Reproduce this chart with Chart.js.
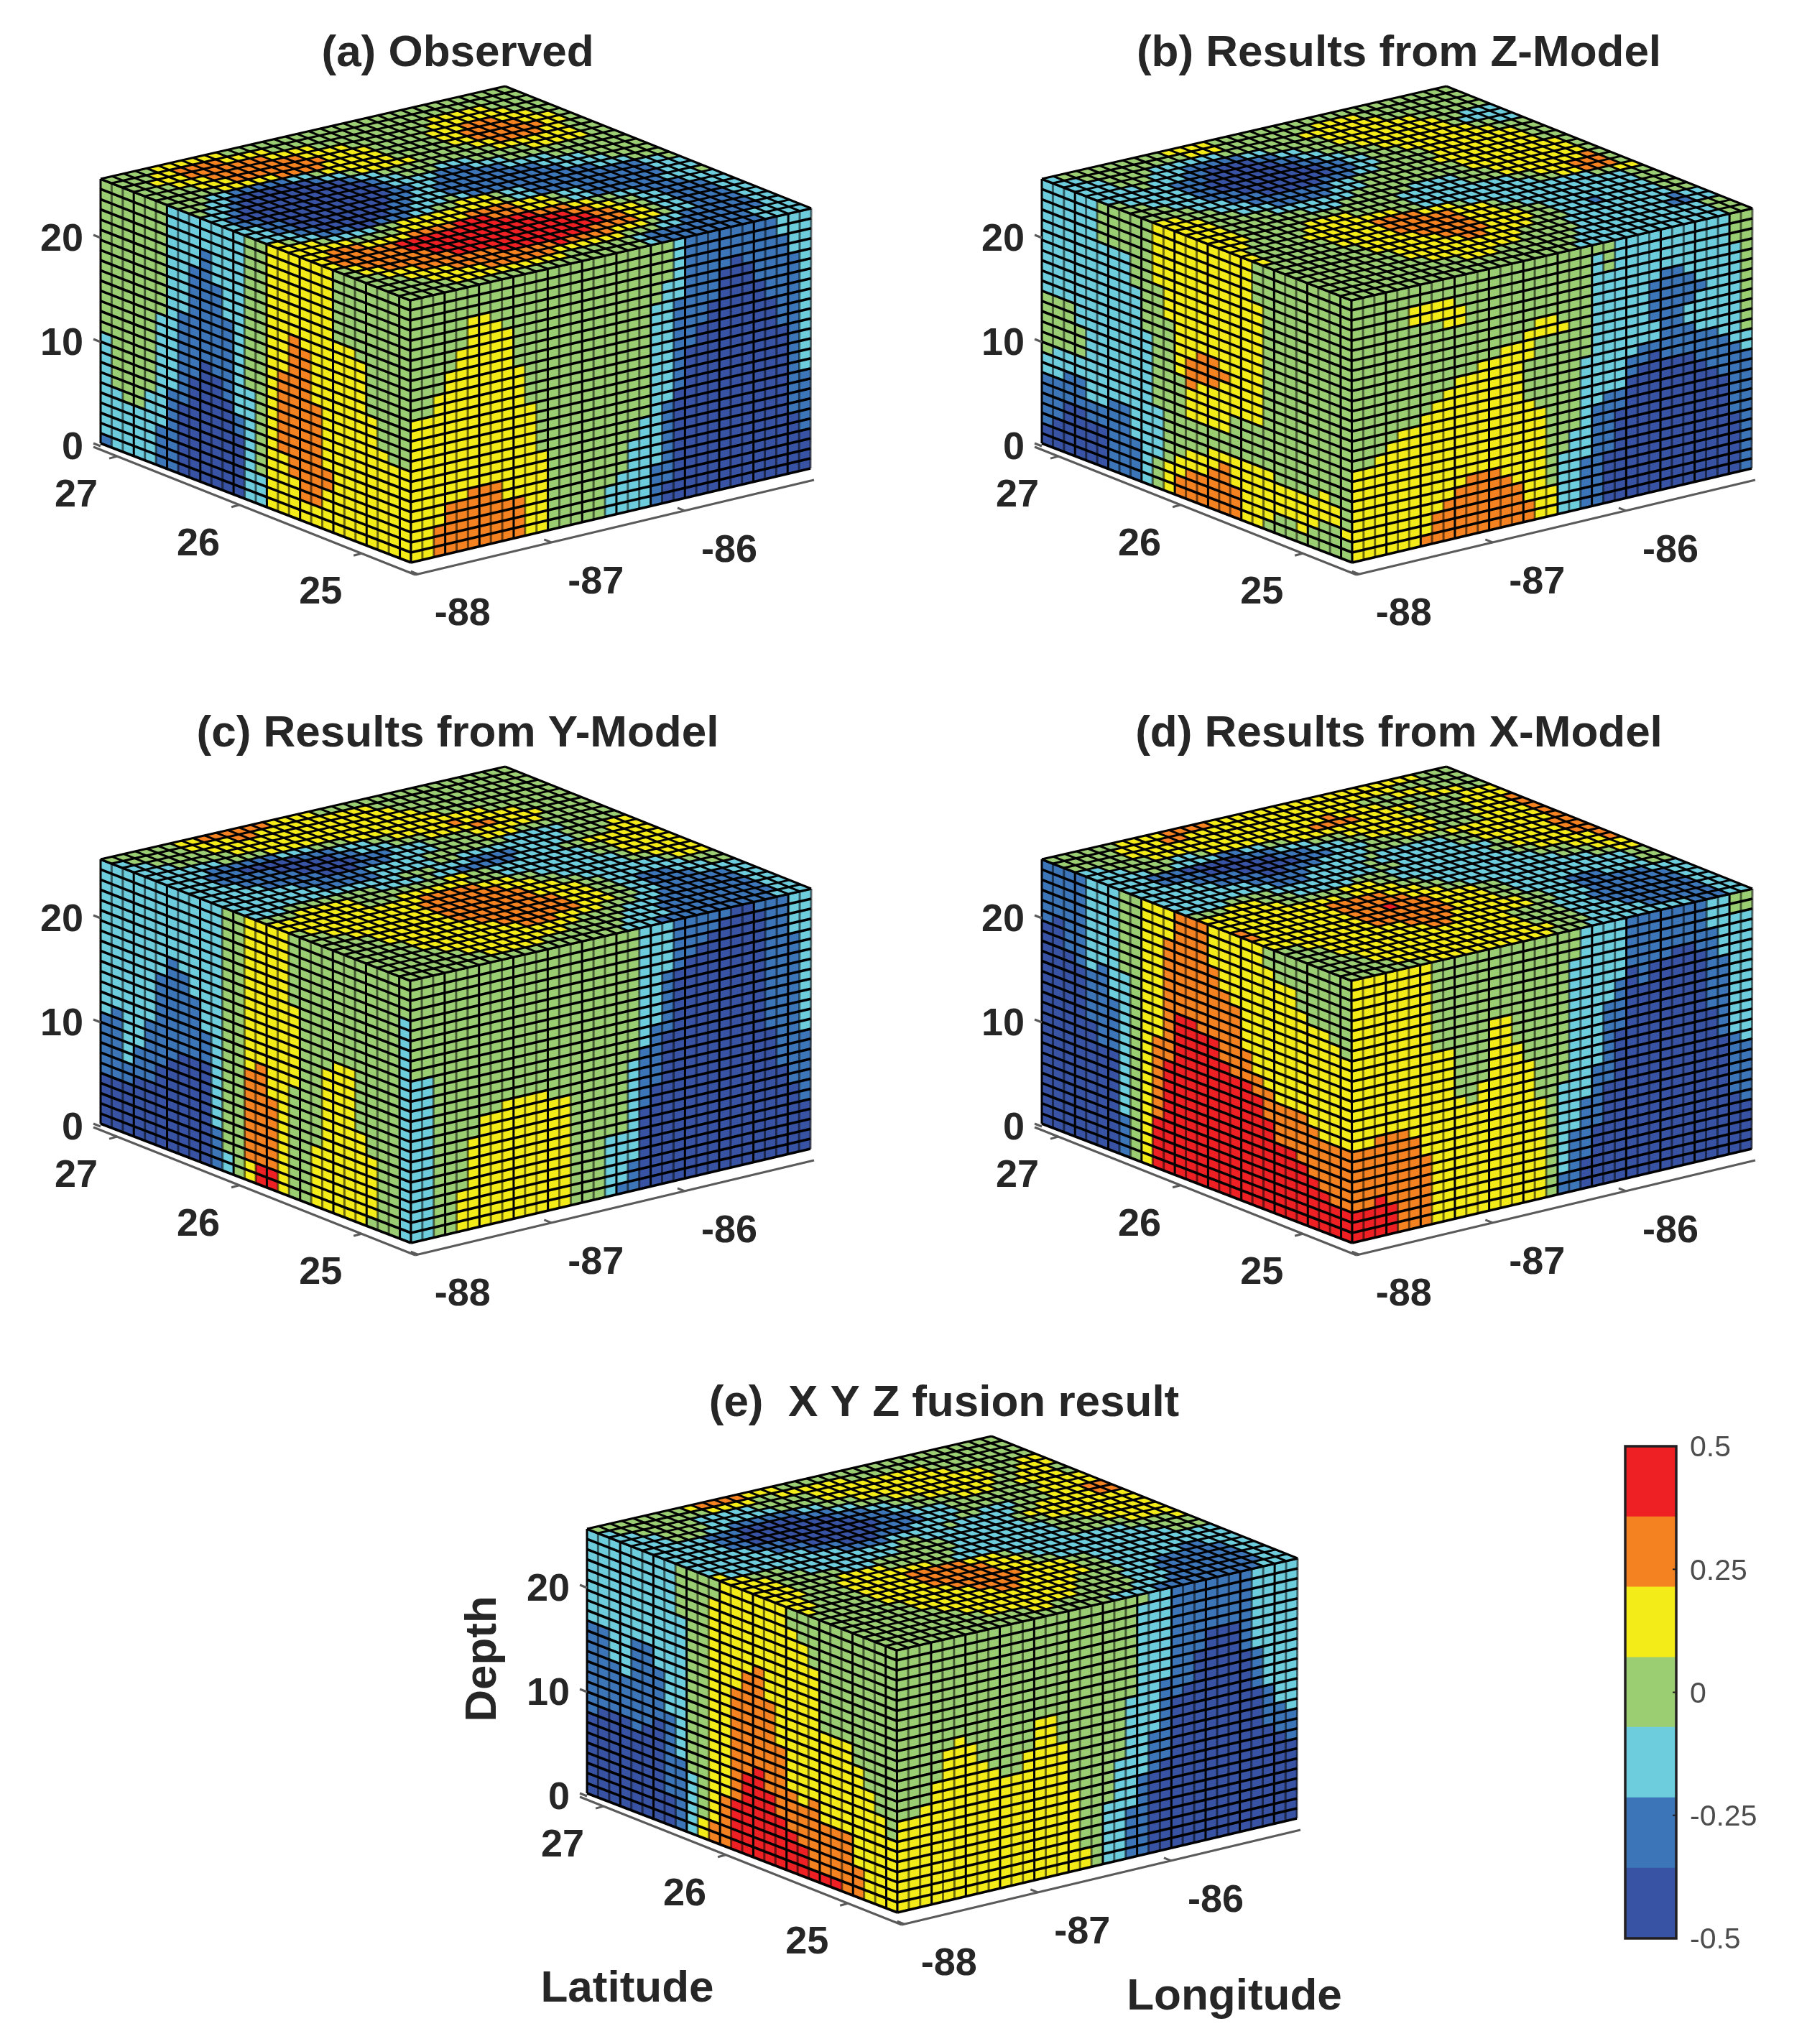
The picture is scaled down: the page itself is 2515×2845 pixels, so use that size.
<!DOCTYPE html>
<html>
<head>
<meta charset="utf-8">
<title>Observed and model fields</title>
<script src="https://cdn.jsdelivr.net/npm/chart.js@4"></script>
<style>
  html, body { margin: 0; padding: 0; background: #fff; overflow: hidden; width: 2515px; height: 2845px; }
  canvas { position: absolute; }
</style>
</head>
<body>
<canvas id="panelA"></canvas>
<canvas id="panelB"></canvas>
<canvas id="panelC"></canvas>
<canvas id="panelD"></canvas>
<canvas id="panelE"></canvas>
<canvas id="colorbar"></canvas>
<script>
// Colour classes, lowest to highest
const levelColors = ["#3953a4", "#3c76b9", "#6dcddd", "#9bce72", "#f4ec18", "#f58220", "#ee2024"];
const colorbarEdges = [-0.5, -0.357, -0.214, -0.071, 0.071, 0.214, 0.357, 0.5];
const colorbarTicks = [-0.5, -0.25, 0, 0.25, 0.5];

const latTicks = [27, 26, 25];
const lonTicks = [-88, -87, -86];
const depthTicks = [0, 10, 20];

const nLat = 28, nLon = 35, nDepth = 26;

// Every string is one column or row of cells written as runs: level.count
// left face: one string per column, left corner to front, top to bottom
// right face: one string per column, front to right corner, top to bottom
// top face: one string per row, left edge to front, from the left corner back

const leftA = ["3.15 2.10 1.1","3.20 2.6","3.21 2.5","3.21 2.5","3.19 2.7","3.11 2.11 1.4","2.18 1.8","2.10 1.9 0.7","2.5 1.11 0.10","2.3 1.11 0.12","2.6 1.9 0.11","2.9 1.8 0.9","2.18 1.2 0.6","3.15 2.11","3.23 2.3","4.26","4.12 5.8 4.6","4.8 5.14 4.4","4.9 5.15 4.2","4.14 5.10 4.2","4.20 5.2 4.4","3.7 4.19","3.7 4.19","3.8 4.18","3.13 4.13","3.16 4.10","3.17 4.9","3.17 4.9"];
const rightA = ["3.12 4.14","3.12 4.14","3.10 4.13 5.3","3.8 4.13 5.5","3.6 4.15 5.5","3.3 4.17 5.6","3.3 4.17 5.6","3.4 4.16 5.6","3.5 4.17 5.4","3.9 4.13 5.4","3.13 4.13","3.18 4.8","3.26","3.26","3.26","3.26","3.26","3.23 2.3","3.22 2.4","3.19 2.7","3.17 2.9","3.6 2.16 1.4","3.4 2.12 1.8 0.2","2.6 1.9 0.11","1.11 0.15","1.9 0.17","1.7 0.19","1.4 0.22","1.3 0.23","1.4 0.22","1.6 0.20","1.8 0.18","2.2 1.9 0.15","2.4 1.16 0.6","2.16 1.6 0.4"];
const topA = ["3.4 4.6 3.25","3.3 4.2 5.4 4.4 3.22","3.2 4.3 5.7 4.4 3.10 4.5 3.4","3.3 4.3 5.8 4.4 3.7 4.7 3.3","3.4 4.3 5.8 4.4 3.5 4.3 5.3 4.3 3.2","3.5 4.5 5.4 4.5 3.5 4.2 5.5 4.3 3.1","3.3 2.2 1.5 2.2 3.1 4.6 3.5 4.2 5.6 4.2 3.1","3.2 2.2 1.1 0.6 1.1 2.2 3.1 4.5 3.5 4.2 5.4 4.2 3.2","3.1 2.2 1.1 0.9 1.1 2.2 3.10 4.7 3.2","2.2 1.1 0.11 1.1 2.2 3.3 2.3 3.5 4.5 3.2","2.1 1.1 0.12 1.1 2.4 1.3 2.3 3.10","2.1 1.2 0.11 1.2 2.2 1.6 2.4 3.7","2.2 1.2 0.9 1.2 2.2 1.9 2.4 3.5","2.2 1.2 0.8 1.2 2.3 1.10 2.4 3.4","2.3 1.2 0.6 1.2 2.3 3.1 2.1 1.11 2.3 3.3","4.1 3.1 2.2 1.3 0.2 1.3 2.2 3.2 4.3 3.1 2.2 1.10 2.2 3.1","4.3 3.1 2.4 3.2 4.9 3.1 2.2 1.10 2.3","4.5 3.4 4.6 5.4 4.3 3.1 2.2 1.7 2.3","4.2 5.3 4.4 5.4 6.3 5.3 4.3 3.1 2.2 1.6 2.3 3.1","4.1 5.6 6.12 5.3 4.2 3.2 2.2 1.4 2.3","4.1 5.6 6.14 5.2 4.2 3.2 2.2 1.4 2.2","3.1 4.1 5.6 6.14 5.2 4.2 3.1 2.2 1.4 2.2","3.1 4.2 5.6 6.13 5.2 4.2 3.1 2.2 1.4 2.2","3.2 4.3 5.7 6.8 5.4 4.2 3.1 2.2 1.4 2.2","3.3 4.4 5.9 6.1 5.4 4.3 3.1 2.2 1.6 2.2","3.4 4.5 5.6 4.6 3.3 2.2 1.7 2.2","3.5 4.10 3.6 2.1 1.9 2.4","3.21 2.1 1.9 2.4"];

const leftB = ["2.11 3.6 2.2 1.5 0.2","2.11 3.5 2.3 1.4 0.3","2.11 3.5 2.2 1.3 0.5","2.13 3.3 2.2 1.3 0.5","2.20 1.2 0.4","3.4 2.16 1.2 0.4","3.4 2.15 1.7","3.4 2.15 1.7","3.7 2.15 1.4","3.11 2.15","4.6 3.12 2.5 3.3","4.9 3.14 4.3","4.14 3.8 4.2 5.2","4.12 5.3 4.3 3.3 4.2 5.3","4.11 5.3 4.4 3.3 4.2 5.3","4.11 5.3 4.4 3.2 4.2 5.4","4.12 5.1 4.5 3.2 4.1 5.5","4.16 3.4 4.3 5.3","4.16 3.4 4.6","3.4 4.12 3.4 4.6","3.20 4.5 3.1","3.21 4.3 3.2","3.21 4.3 3.2","3.21 4.4 3.1","3.21 4.3 3.2","3.20 4.3 3.3","3.21 4.2 3.3","3.23 4.1 3.2"];
const rightB = ["3.17 4.9","3.17 4.9","3.16 4.10","3.15 4.11","3.14 4.12","3.2 4.2 3.10 4.12","3.2 4.2 3.9 4.12 5.1","3.2 4.2 3.8 4.11 5.3","3.2 4.3 3.6 4.11 5.4","3.3 4.2 3.5 4.11 5.5","3.10 4.10 5.6","3.9 4.11 5.6","3.9 4.11 5.6","3.8 4.13 5.5","3.8 4.14 5.4","3.7 4.3 3.4 4.10 5.2","3.6 4.2 3.7 4.11","3.6 4.2 3.15 4.3","3.7 4.1 3.12 2.6","3.18 2.8","3.11 2.10 1.5","3.1 2.15 1.10","3.3 2.12 1.6 0.5","2.15 1.2 0.9","2.12 1.2 0.12","2.11 1.2 0.13","2.5 1.4 2.2 1.1 0.14","2.4 1.9 0.13","2.4 1.9 0.13","2.5 1.3 2.2 1.3 0.13","2.6 1.1 2.4 1.3 0.12","2.11 1.4 0.11","2.12 1.4 0.10","3.3 2.10 1.7 0.6","3.12 2.2 1.12"];
const topB = ["2.1 3.9 4.4 3.21","2.2 3.9 4.3 3.8 4.4 3.9","2.3 3.4 2.6 3.7 4.7 3.8","2.3 3.3 2.3 1.5 2.2 3.5 4.8 3.6","2.4 3.1 2.3 1.2 0.4 1.2 2.2 3.3 4.9 3.2 2.3","2.6 1.3 0.6 1.2 2.2 3.3 4.8 3.1 2.4","3.1 2.5 1.2 0.8 1.2 2.2 3.3 4.8 3.2 2.2","3.2 2.4 1.2 0.9 1.2 2.2 3.3 4.8 3.3","3.3 2.3 1.3 0.8 1.2 2.2 3.4 4.8 3.2","3.4 2.3 1.3 0.5 1.3 2.2 3.5 4.8 3.2","4.2 3.3 2.3 1.7 2.2 3.7 4.9 3.2","4.3 3.3 2.3 1.5 2.3 3.8 4.9 3.1","4.3 3.5 2.7 3.10 4.9 3.1","4.3 3.7 2.3 3.6 2.4 3.3 4.8 3.1","4.3 3.14 2.6 3.3 4.7 5.1 3.1","4.3 3.5 4.4 3.5 2.9 3.2 4.3 5.3 3.1","4.2 3.5 4.8 3.2 2.10 3.2 4.2 5.3 3.1","4.1 3.5 4.6 5.4 4.3 3.1 2.11 3.2 4.2","4.1 3.6 4.5 5.6 4.3 3.1 2.11 3.2","4.1 3.6 4.5 5.6 4.3 3.2 2.10 3.2","3.8 4.5 5.5 4.4 3.2 2.9 3.2","3.8 4.6 5.4 4.4 3.2 2.3 1.1 2.5 3.2","3.9 4.6 5.2 4.4 3.3 2.9 3.2","3.9 4.10 3.4 2.9 1.1 2.2","3.10 4.8 3.5 2.8 1.2 2.2","3.12 4.3 3.7 2.11 3.2","3.21 2.12 3.2","3.20 2.13 3.2"];

const leftC = ["2.15 1.6 0.5","2.14 1.7 0.5","2.19 1.2 0.5","2.17 1.3 0.6","2.14 1.6 0.6","2.9 1.9 0.8","2.7 1.10 0.9","2.8 1.8 0.10","2.10 1.6 0.10","2.13 1.3 0.10","2.22 1.4","3.24 2.2","3.26","4.15 5.9 4.2","4.14 5.10 6.2","4.17 5.7 6.2","4.26","3.7 4.8 3.11","3.26","3.20 4.6","3.12 4.14","3.11 4.15","3.11 4.15","3.17 4.9","3.19 4.6 3.1","3.26","3.26","3.4 2.22"];
const rightC = ["3.10 2.16","3.10 2.16","3.26","3.26","3.22 4.4","3.17 4.9","3.15 4.11","3.15 4.11","3.14 4.12","3.14 4.12","3.14 4.12","3.14 4.12","3.15 4.11","3.15 4.11","3.26","3.26","3.26","3.20 2.6","3.20 2.5 1.1","3.13 2.10 1.3","2.12 1.6 0.8","2.10 1.6 0.10","2.5 1.6 0.15","1.5 0.21","1.4 0.22","1.3 0.23","1.2 0.24","1.1 0.25","0.26","0.26","1.1 0.25","1.13 0.13","1.17 0.9","2.4 1.15 0.7","2.14 1.7 0.5"];
const topC = ["3.6 4.2 5.6 4.4 3.17","2.1 3.5 4.4 5.2 4.10 3.13","2.2 3.5 4.16 3.12","2.3 3.5 4.16 3.11","2.6 3.4 4.15 3.10","2.4 1.6 2.3 3.3 4.12 3.7","2.3 1.3 0.5 1.3 2.3 3.2 4.5 5.1 4.5 3.5","2.3 1.5 0.5 1.2 2.3 3.3 4.4 5.2 4.4 3.4","2.4 1.5 0.5 1.3 2.3 3.4 4.6 3.5","2.5 1.5 0.3 1.3 2.4 3.4 4.3 3.8","2.7 1.6 2.5 3.7 2.5 3.5","2.8 1.5 2.5 3.2 2.9 3.4 4.2","2.14 3.3 2.3 1.4 2.5 3.3 4.3","2.3 3.8 2.4 3.1 2.2 1.5 2.4 3.2 4.6","3.3 4.5 3.8 4.2 3.2 2.8 3.2 4.5","4.8 3.3 4.6 3.3 2.8 3.2 4.5","4.12 5.5 4.3 3.2 2.7 3.1 4.5","3.1 4.10 5.7 4.3 3.2 2.6 3.2 4.4","3.2 4.9 5.8 4.3 3.2 2.7 3.1 4.3","3.3 4.8 5.8 4.4 3.2 2.7 3.3","3.4 4.7 5.9 4.3 3.2 2.2 1.3 2.3 3.2","3.4 4.8 5.8 4.3 3.2 2.2 1.4 2.4","3.5 4.8 5.7 4.3 3.2 2.2 1.6 2.2","3.5 4.9 5.3 4.4 3.3 2.2 1.7 2.2","3.6 4.12 3.4 2.3 1.8 2.2","3.7 4.9 3.5 2.3 1.9 2.2","3.8 4.5 3.7 2.4 1.9 2.2","3.19 2.3 1.10 2.3"];

const leftD = ["1.6 0.20","1.5 0.21","1.8 0.18","1.9 0.17","2.9 1.5 0.12","2.8 1.8 0.10","2.11 1.5 0.10","3.8 2.14 1.4","3.26","4.26","4.13 5.8 6.5","4.3 5.12 6.11","5.10 6.16","5.10 6.16","5.11 6.15","4.4 5.7 6.15","4.6 5.7 6.13","4.7 5.7 6.12","4.11 5.3 6.12","4.13 5.2 6.11","3.2 4.12 5.3 6.9","3.3 4.12 5.4 6.7","3.3 4.12 5.4 6.7","3.5 4.10 5.5 6.6","3.6 4.10 5.5 6.5","3.6 4.11 5.5 6.4","3.7 4.10 5.6 6.3","3.8 4.9 5.6 6.3"];
const rightD = ["4.17 5.6 6.3","4.17 5.6 6.3","4.16 5.6 6.4","4.16 5.7 6.3","4.16 5.10","4.17 5.9","4.19 5.7","3.9 4.17","3.9 4.17","3.14 4.12","3.15 4.11","3.13 4.13","3.7 4.19","3.7 4.19","3.10 4.16","3.12 4.14","3.16 4.10","3.26","3.15 2.9 1.2","3.3 2.17 1.6","2.17 1.6 0.3","2.14 1.6 0.6","2.8 1.8 0.10","2.6 1.5 0.15","1.5 0.21","1.7 0.19","1.5 0.21","1.5 0.21","1.4 0.22","1.4 0.22","1.5 0.21","2.3 1.8 0.15","2.6 1.8 0.12","3.2 2.12 1.6 0.6","3.2 2.13 1.6 0.5"];
const topD = ["3.6 4.4 5.4 4.18 3.3","3.5 4.4 5.2 4.18 3.6","3.5 4.20 3.3 4.3 3.4","2.2 3.4 4.15 5.1 4.4 3.4 4.3 3.2","2.3 3.4 2.2 3.1 4.9 5.4 4.5 3.4 4.3","2.4 3.2 2.4 1.2 2.2 3.2 4.10 3.5 4.4","2.3 1.3 0.5 1.3 2.3 3.3 4.7 3.4 4.3 5.1","2.3 1.4 0.6 1.3 2.3 3.2 4.6 3.3 4.4 5.1","2.5 1.4 0.5 1.3 2.3 3.3 4.3 3.4 4.4 5.1","2.6 1.4 0.2 1.3 2.4 3.7 4.8 5.1","2.8 1.5 2.5 3.1 2.6 3.2 4.7 5.1","2.9 1.3 2.5 3.1 2.7 3.2 4.6 5.2","2.4 3.4 2.9 3.2 2.8 3.1 4.5 5.2","3.3 4.3 3.3 2.5 3.3 2.9 3.2 4.5 5.2","4.7 3.5 4.3 3.2 2.10 3.2 4.5 5.1","4.11 3.1 4.4 3.2 2.10 3.3 4.3 5.1","4.9 5.5 4.3 3.2 2.10 3.3 4.3","5.1 4.8 5.6 4.3 3.2 2.11 3.2 4.2","5.1 4.8 5.3 6.1 5.3 4.4 3.2 2.11 3.2","4.9 5.7 4.4 3.2 2.11 3.2","4.9 5.7 4.4 3.2 2.4 1.3 2.4 3.2","3.2 4.9 5.4 4.6 3.2 2.3 1.6 2.3","3.3 4.9 5.2 4.7 3.2 2.3 1.7 2.2","3.3 4.15 3.4 2.3 1.8 2.2","3.4 4.14 3.4 2.3 1.8 2.2","3.4 4.14 3.4 2.4 1.7 2.2","3.5 4.14 3.3 2.5 1.6 2.2","3.7 4.11 3.3 2.9 1.3 2.2"];

const leftE = ["2.9 1.9 0.8","2.9 1.8 0.9","2.12 1.5 0.9","2.13 1.4 0.9","2.9 1.9 0.8","2.9 1.8 0.9","2.11 1.5 0.10","2.15 1.8 0.3","3.5 2.14 1.7","3.20 2.6","3.24 4.2","3.2 4.22 5.2","4.21 5.5","4.10 5.11 6.5","4.8 5.10 6.8","4.7 5.10 6.9","4.10 5.9 6.7","4.14 5.7 6.5","3.2 4.16 5.4 6.4","3.3 4.16 5.4 6.3","3.5 4.13 5.7 6.1","3.11 4.9 5.5 6.1","3.11 4.9 5.5 6.1","3.11 4.9 5.6","3.13 4.10 5.3","3.15 4.11","3.17 4.9","3.19 4.7"];
const rightE = ["3.17 4.9","3.17 4.9","3.16 4.10","3.14 4.12","3.11 4.15","3.10 4.16","3.11 4.15","3.13 4.13","3.14 4.12","3.15 4.11","3.15 4.11","3.13 4.13","3.10 4.16","3.10 4.16","3.13 4.13","3.18 4.8","3.24 4.2","3.26","3.20 2.6","3.16 2.10","3.10 2.11 1.5","3.1 2.17 1.8","2.14 1.4 0.8","2.9 1.8 0.9","1.11 0.15","1.10 0.16","1.7 0.19","1.5 0.21","1.5 0.21","1.5 0.21","1.8 0.18","2.8 1.4 0.14","2.12 1.4 0.10","2.14 1.3 0.9","2.15 1.3 0.8"];
const topE = ["3.8 4.1 5.4 4.3 3.19","2.1 3.8 4.4 3.2 4.6 3.14","2.2 3.5 2.5 3.5 4.10 3.8","2.3 3.4 2.6 3.4 4.11 3.7","2.3 3.3 2.2 1.6 2.2 3.3 4.11 3.3 4.2","2.5 1.3 0.5 1.3 2.2 3.3 4.9 3.2 4.3","2.5 1.2 0.8 1.3 2.2 3.3 4.6 3.2 4.3 3.1","2.5 1.2 0.9 1.3 2.2 3.4 4.3 3.2 4.4 3.1","2.6 1.3 0.8 1.3 2.3 3.8 4.4","2.7 1.3 0.6 1.4 2.3 3.7 4.5","2.9 1.3 0.3 1.3 2.4 3.2 2.3 3.3 4.3 5.2","4.1 2.10 1.4 2.5 3.1 2.5 3.2 4.5 5.2","4.2 3.3 2.10 3.2 2.8 3.1 4.9","4.3 3.3 2.8 3.4 2.7 3.2 4.8","4.3 3.5 2.3 3.7 2.8 3.3 4.6","4.3 3.4 4.4 3.6 2.9 3.4 4.5","4.3 3.3 4.8 3.2 2.10 3.5 4.4","4.2 3.4 4.5 5.5 4.3 3.1 2.10 3.4 4.1","4.2 3.4 4.5 5.6 4.3 3.1 2.10 3.4","4.1 3.5 4.5 5.6 4.3 3.2 2.10 3.3","3.6 4.6 5.6 4.4 3.2 2.11","3.7 4.6 5.4 4.5 3.2 2.11","3.7 4.7 5.2 4.6 3.2 2.6 1.2 2.3","3.8 4.12 3.4 2.3 1.6 2.2","3.9 4.10 3.4 2.3 1.7 2.2","3.10 4.8 3.5 2.3 1.7 2.2","3.13 4.2 3.7 2.3 1.8 2.2","3.19 2.4 1.9 2.3"];

// Box corners in panel units (all panels share them)
const A = [140, 249], B = [703, 120], C = [1129, 290], D = [571, 418];
const E = [140, 617], F = [572, 783], G = [1128, 652];
// Axis lines below the box, and the value at each end
const axisLeft = [130, 622], axisFront = [578, 800], axisRight = [1133, 668];
const latRange = [27.194, 24.56], lonRange = [-88.02, -85.03];
const PANEL_W = 1265, PANEL_H = 945, X_MIN = -60;
const FONT = '"Liberation Sans", Arial, sans-serif';
const INK = "#262626";

// "3.15 2.10" -> fifteen 3s then ten 2s
function expand(runs, length) {
  const out = [];
  runs.split(" ").forEach(run => {
    const [level, count] = run.split(".").map(Number);
    for (let n = 0; n < count; n++) out.push(level);
  });
  while (out.length < length) out.push(out[out.length - 1]);
  return out.slice(0, length);
}

function bilerp(q, s, t) {
  const x = (1 - t) * ((1 - s) * q.tl[0] + s * q.tr[0]) + t * ((1 - s) * q.bl[0] + s * q.br[0]);
  const y = (1 - t) * ((1 - s) * q.tl[1] + s * q.tr[1]) + t * ((1 - s) * q.bl[1] + s * q.br[1]);
  return { x, y };
}

function lerp(a, b, f) {
  return [a[0] + (b[0] - a[0]) * f, a[1] + (b[1] - a[1]) * f];
}

// One scatter dataset per face, one point per cell at the cell centre
function faceDataset(strings, byColumn, quad, nCols, nRows, kind) {
  const data = [];
  const lines = strings.map(s => expand(s, byColumn ? nRows : nCols));
  for (let c = 0; c < nCols; c++) {
    for (let r = 0; r < nRows; r++) {
      const level = byColumn ? lines[c][r] : lines[r][c];
      const p = bilerp(quad, (c + 0.5) / nCols, (r + 0.5) / nRows);
      data.push({ x: p.x, y: p.y, level, c, r });
    }
  }
  return { data, quad, nCols, nRows, kind, pointRadius: 0, showLine: false };
}

const voxelPlugin = {
  id: "voxelBox",
  beforeDatasetsDraw(chart, args, opts) {
    const ctx = chart.ctx, sx = chart.scales.x, sy = chart.scales.y;
    const px = p => [sx.getPixelForValue(p.x), sy.getPixelForValue(p.y)];
    const pxv = v => [sx.getPixelForValue(v[0]), sy.getPixelForValue(v[1])];

    chart.data.datasets.forEach(ds => {
      if (!ds.quad) return;
      ds.data.forEach(d => {
        const s0 = d.c / ds.nCols, s1 = (d.c + 1) / ds.nCols;
        const t0 = d.r / ds.nRows, t1 = (d.r + 1) / ds.nRows;
        const pts = [bilerp(ds.quad, s0, t0), bilerp(ds.quad, s1, t0), bilerp(ds.quad, s1, t1), bilerp(ds.quad, s0, t1)].map(px);
        ctx.beginPath();
        ctx.moveTo(pts[0][0], pts[0][1]);
        for (let i = 1; i < 4; i++) ctx.lineTo(pts[i][0], pts[i][1]);
        ctx.closePath();
        ctx.fillStyle = levelColors[d.level];
        ctx.strokeStyle = levelColors[d.level];
        ctx.lineWidth = 0.5;
        ctx.fill();
        ctx.stroke();
      });
      // grid over the cells
      for (let r = 0; r <= ds.nRows; r++) {
        const a = px(bilerp(ds.quad, 0, r / ds.nRows)), b = px(bilerp(ds.quad, 1, r / ds.nRows));
        ctx.beginPath(); ctx.moveTo(a[0], a[1]); ctx.lineTo(b[0], b[1]);
        ctx.strokeStyle = "#000";
        ctx.lineWidth = ds.kind === "top" ? 3 : 3.6;
        ctx.stroke();
      }
      for (let c = 0; c <= ds.nCols; c++) {
        const a = px(bilerp(ds.quad, c / ds.nCols, 0)), b = px(bilerp(ds.quad, c / ds.nCols, 1));
        ctx.beginPath(); ctx.moveTo(a[0], a[1]); ctx.lineTo(b[0], b[1]);
        if (ds.kind === "top") {
          ctx.strokeStyle = "#000"; ctx.lineWidth = 3;
        } else if (c % 3 === 0) {
          ctx.strokeStyle = "#000"; ctx.lineWidth = 3;
        } else {
          ctx.strokeStyle = "rgba(0,0,0,0.55)"; ctx.lineWidth = 3;
        }
        ctx.stroke();
      }
    });

    // axis lines and ticks
    const line = (a, b, w, col) => {
      const p = pxv(a), q = pxv(b);
      ctx.beginPath(); ctx.moveTo(p[0], p[1]); ctx.lineTo(q[0], q[1]);
      ctx.lineWidth = w; ctx.strokeStyle = col; ctx.stroke();
    };
    const text = (s, at, font, align, rot) => {
      const p = pxv(at);
      ctx.save();
      ctx.translate(p[0], p[1]);
      if (rot) ctx.rotate(rot);
      ctx.font = font; ctx.fillStyle = INK; ctx.textAlign = align; ctx.textBaseline = "middle";
      ctx.fillText(s, 0, 0);
      ctx.restore();
    };
    const axisCol = "#5a5a5a";
    line(axisLeft, axisFront, 3, axisCol);
    line(axisFront, axisRight, 3, axisCol);
    const tickFont = "bold 54px " + FONT;
    latTicks.forEach(v => {
      const f = (v - latRange[0]) / (latRange[1] - latRange[0]);
      const at = lerp(axisLeft, axisFront, f);
      line(at, [at[0] - 11, at[1] + 3], 3, axisCol);
      text(String(v), [at[0] - 57, at[1] + 55], tickFont, "center");
    });
    lonTicks.forEach(v => {
      const f = (v - lonRange[0]) / (lonRange[1] - lonRange[0]);
      const at = lerp(axisFront, axisRight, f);
      line(at, [at[0] - 10, at[1] - 4], 3, axisCol);
      text(String(v), [at[0] + 62, at[1] + 56], tickFont, "center");
    });
    depthTicks.forEach(v => {
      const y = 620 - 14.5 * v;
      line([130, y - 3], [140, y + 1], 3, axisCol);
      text(String(v), [116, y + 4], tickFont, "right");
    });

    text(opts.title, [637, 75], "bold 62px " + FONT, "center");
    if (opts.axisTitles) {
      text("Depth", [-4, 430], "bold 62px " + FONT, "center", -Math.PI / 2);
      text("Latitude", [196, 890], "bold 62px " + FONT, "center");
      text("Longitude", [1041, 901], "bold 62px " + FONT, "center");
    }
  }
};

function makePanel(id, left, top, title, leftFace, rightFace, topFace, axisTitles) {
  const canvas = document.getElementById(id);
  canvas.width = PANEL_W;
  canvas.height = PANEL_H;
  canvas.style.left = (left + X_MIN) + "px";
  canvas.style.top = top + "px";
  return new Chart(canvas, {
    type: "scatter",
    data: {
      datasets: [
        faceDataset(leftFace, true, { tl: A, tr: D, bl: E, br: F }, nLat, nDepth, "left"),
        faceDataset(rightFace, true, { tl: D, tr: C, bl: F, br: G }, nLon, nDepth, "right"),
        faceDataset(topFace, false, { tl: A, tr: B, bl: D, br: C }, nLon, nLat, "top")
      ]
    },
    options: {
      responsive: false,
      animation: false,
      devicePixelRatio: 1,
      layout: { padding: 0 },
      events: [],
      scales: {
        x: { type: "linear", display: false, min: X_MIN, max: X_MIN + PANEL_W },
        y: { type: "linear", display: false, min: 0, max: PANEL_H, reverse: true }
      },
      plugins: {
        legend: { display: false },
        tooltip: { enabled: false },
        voxelBox: { title, axisTitles }
      }
    },
    plugins: [voxelPlugin]
  });
}

makePanel("panelA", 0, 0, "(a) Observed", leftA, rightA, topA, false);
makePanel("panelB", 1310, 0, "(b) Results from Z-Model", leftB, rightB, topB, false);
makePanel("panelC", 0, 947, "(c) Results from Y-Model", leftC, rightC, topC, false);
makePanel("panelD", 1310, 947, "(d) Results from X-Model", leftD, rightD, topD, false);
makePanel("panelE", 677, 1879, "(e)  X Y Z fusion result", leftE, rightE, topE, true);

// Colour bar: one floating bar per class
const barCanvas = document.getElementById("colorbar");
barCanvas.width = 335;
barCanvas.height = 770;
barCanvas.style.left = "2180px";
barCanvas.style.top = "1970px";
new Chart(barCanvas, {
  type: "bar",
  data: {
    labels: [""],
    datasets: levelColors.map((color, i) => ({
      data: [[colorbarEdges[i], colorbarEdges[i + 1]]],
      backgroundColor: color,
      borderWidth: 0,
      barPercentage: 1,
      categoryPercentage: 1
    }))
  },
  options: {
    responsive: false,
    animation: false,
    devicePixelRatio: 1,
    events: [],
    layout: { padding: { left: 82, top: 43, bottom: 42, right: 0 } },
    scales: {
      x: { stacked: true, display: false },
      y: {
        position: "right",
        min: -0.5,
        max: 0.5,
        afterFit: s => { s.width = 182; },
        afterBuildTicks: s => { s.ticks = colorbarTicks.map(value => ({ value })); },
        grid: { display: false },
        border: { display: false },
        ticks: { padding: 11, labelOffset: 3, color: "#4d4d4d", font: { family: "Liberation Sans", size: 41 }, callback: v => String(v) }
      }
    },
    plugins: { legend: { display: false }, tooltip: { enabled: false } }
  },
  plugins: [{
    id: "barFrame",
    afterDatasetsDraw(chart) {
      const { ctx, chartArea: a, scales } = chart;
      ctx.strokeStyle = "#231f20";
      ctx.lineWidth = 3.5;
      ctx.strokeRect(a.left, a.top, a.right - a.left, a.bottom - a.top);
      ctx.lineWidth = 2;
      colorbarTicks.forEach(v => {
        const y = scales.y.getPixelForValue(v);
        ctx.beginPath(); ctx.moveTo(a.right - 5, y); ctx.lineTo(a.right, y); ctx.stroke();
      });
    }
  }]
});
</script>
</body>
</html>
